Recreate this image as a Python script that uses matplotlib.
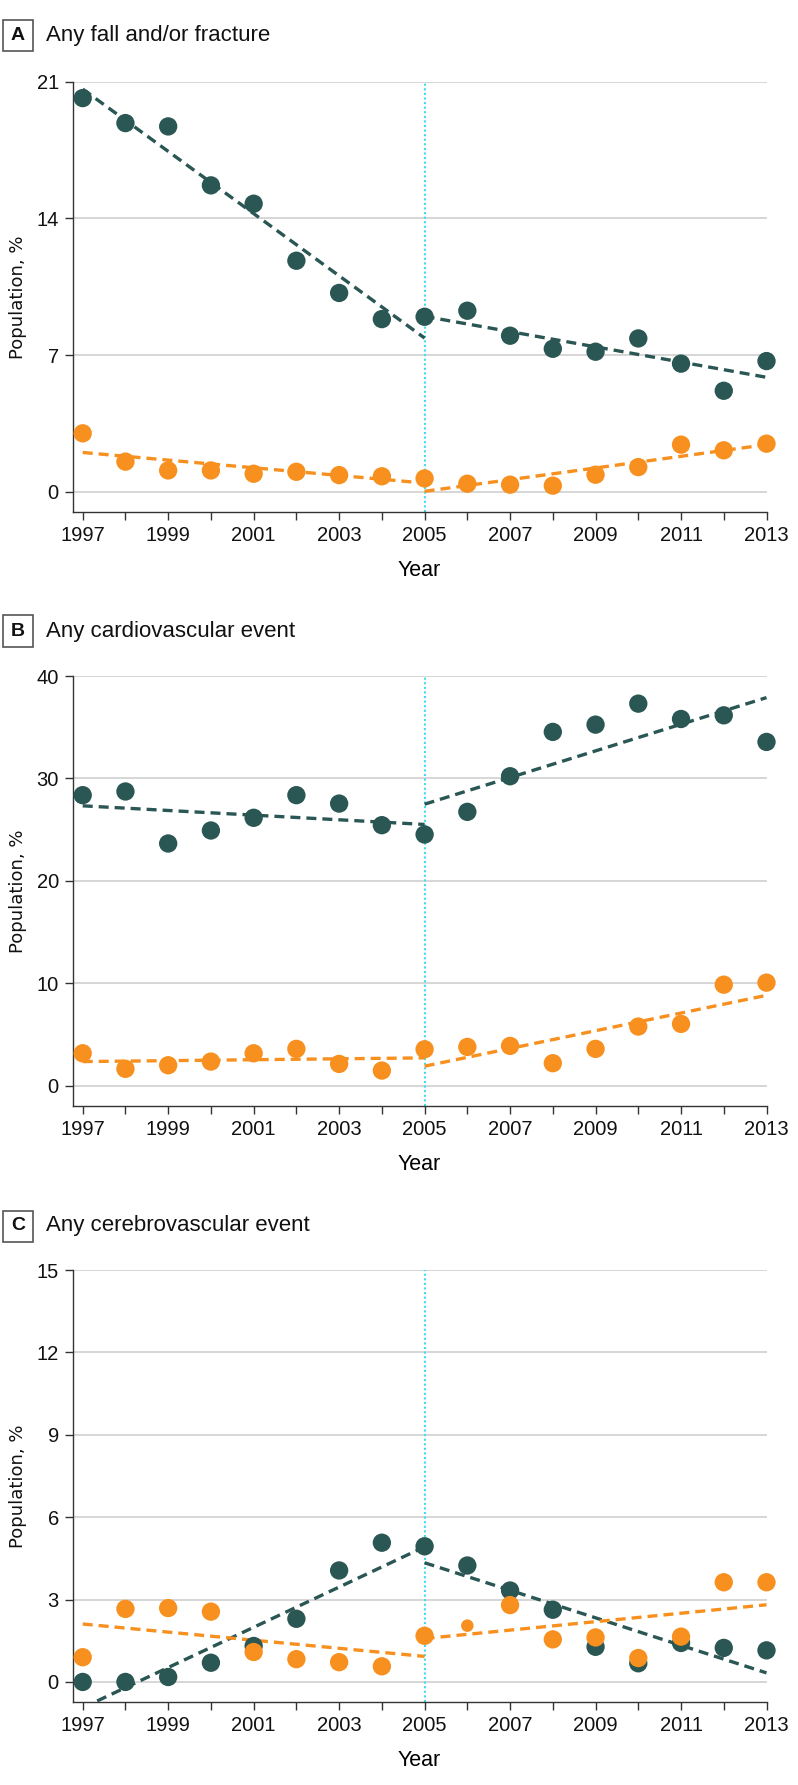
import numpy as np
import matplotlib
matplotlib.use('Agg')
import matplotlib.pyplot as plt
from matplotlib.patches import Rectangle

# data
years = np.arange(1997, 2014)
tick_years = list(range(1997, 2014, 2))

# A: any fall and/or fracture
a_dark = [20.16, 18.88, 18.71, 15.69, 14.75, 11.83, 10.18, 8.84, 8.96,
          9.27, 7.99, 7.32, 7.17, 7.85, 6.56, 5.17, 6.69]
a_orange = [2.99, 1.54, 1.09, 1.09, 0.92, 1.02, 0.85, 0.79, 0.68,
            0.41, 0.36, 0.31, 0.87, 1.26, 2.41, 2.12, 2.46]
a_dark_fit = [(20.62, 7.87), (8.98, 5.86)]
a_orange_fit = [(2.01, 0.44), (0.02, 2.41)]

# B: any cardiovascular event
b_dark = [28.36, 28.72, 23.64, 24.91, 26.15, 28.36, 27.54, 25.43, 24.52,
          26.73, 30.21, 34.54, 35.25, 37.30, 35.80, 36.16, 33.56]
b_orange = [3.15, 1.63, 1.98, 2.34, 3.15, 3.58, 2.11, 1.46, 3.54,
            3.77, 3.87, 2.18, 3.58, 5.76, 6.02, 9.85, 10.05]
b_dark_fit = [(27.32, 25.50), (27.48, 37.89)]
b_orange_fit = [(2.34, 2.70), (1.89, 8.81)]

# C: any cerebrovascular event
c_dark = [0.0, 0.0, 0.18, 0.70, 1.31, 2.30, 4.06, 5.07, 4.94,
          4.24, 3.33, 2.63, 1.28, 0.68, 1.42, 1.24, 1.15]
c_orange = [0.90, 2.66, 2.69, 2.56, 1.09, 0.83, 0.72, 0.57, 1.68,
            2.05, 2.80, 1.55, 1.62, 0.87, 1.65, 3.63, 3.63]
c_dark_fit = [(-0.94, 4.92), (4.34, 0.33)]
c_orange_fit = [(2.11, 0.93), (1.58, 2.81)]

panels = [
    ('A', 'Any fall and/or fracture', a_dark, a_orange, a_dark_fit, a_orange_fit,
     [0, 7, 14, 21], (-1.055, 21)),
    ('B', 'Any cardiovascular event', b_dark, b_orange, b_dark_fit, b_orange_fit,
     [0, 10, 20, 30, 40], (-2.0, 40)),
    ('C', 'Any cerebrovascular event', c_dark, c_orange, c_dark_fit, c_orange_fit,
     [0, 3, 6, 9, 12, 15], (-0.73, 15)),
]

DARK = '#2a5653'
ORANGE = '#f7901e'
CYAN = '#40dcef'
W, H = 798, 1785

plt.rcParams['font.family'] = ['Liberation Sans', 'DejaVu Sans']

fig = plt.figure(figsize=(W / 100, H / 100), dpi=100)

# pixel geometry: (top of axes, bottom spine, title centre)
geom = [(81.7, 512.3, 36), (676, 1106, 631), (1270, 1702, 1226)]
left_px, right_px = 72.7, 766.5

for (letter, title, dark, orange, dfit, ofit, yticks, ylim), (top, bot, ty) in zip(panels, geom):
    ax = fig.add_axes([left_px / W, 1 - bot / H, (right_px - left_px) / W, (bot - top) / H])
    ax.set_xlim(1997 - 10 / 42.74, 2013)
    ax.set_ylim(*ylim)

    for y in yticks:
        ax.axhline(y, color='#d6d6d6', lw=1.4, zorder=0)
    ax.axvline(2005, color=CYAN, lw=1.5, ls=(0, (1, 1.2)), zorder=1)

    # piecewise fitted lines before / after 2005
    for fit, col in ((dfit, DARK), (ofit, ORANGE)):
        ax.plot([1997, 2005], fit[0], color=col, lw=2.4, ls=(0, (3.0, 1.8)), zorder=2)
        ax.plot([2005, 2013], fit[1], color=col, lw=2.4, ls=(0, (3.0, 1.8)), zorder=2)

    sizes = np.full(len(years), 13.2)
    osizes = sizes.copy()
    if letter == 'C':
        osizes[years == 2006] = 9
    ax.scatter(years, dark, s=sizes ** 2, color=DARK, lw=0, zorder=3, clip_on=False)
    ax.scatter(years, orange, s=osizes ** 2, color=ORANGE, lw=0, zorder=4, clip_on=False)

    ax.set_xticks(years)
    ax.set_xticklabels([str(y) if y in tick_years else '' for y in years])
    ax.set_yticks(yticks)
    ax.tick_params(axis='both', labelsize=14.5, length=6, width=1, color='#333333',
                   labelcolor='#111111', pad=4)
    for s in ('top', 'right'):
        ax.spines[s].set_visible(False)
    for s in ('left', 'bottom'):
        ax.spines[s].set_color('#333333')
        ax.spines[s].set_linewidth(1)

    ax.set_xlabel('Year', fontsize=15.5, labelpad=11)
    ax.set_ylabel('Population, %', fontsize=13, family='DejaVu Sans', color='#111111')
    ax.yaxis.set_label_coords(-0.066, 0.5)

    # panel letter box and title
    fig.patches.append(Rectangle((3 / W, 1 - (ty + 15.5) / H), 30 / W, 31 / H,
                                 transform=fig.transFigure, fill=False,
                                 edgecolor='#555555', lw=1.2))
    fig.text(18 / W, 1 - ty / H, letter, ha='center', va='center',
             fontsize=14, fontweight='bold', color='#111111')
    fig.text(46 / W, 1 - ty / H, title, ha='left', va='center',
             fontsize=16, color='#111111')

fig.savefig('out.png', dpi=100)
